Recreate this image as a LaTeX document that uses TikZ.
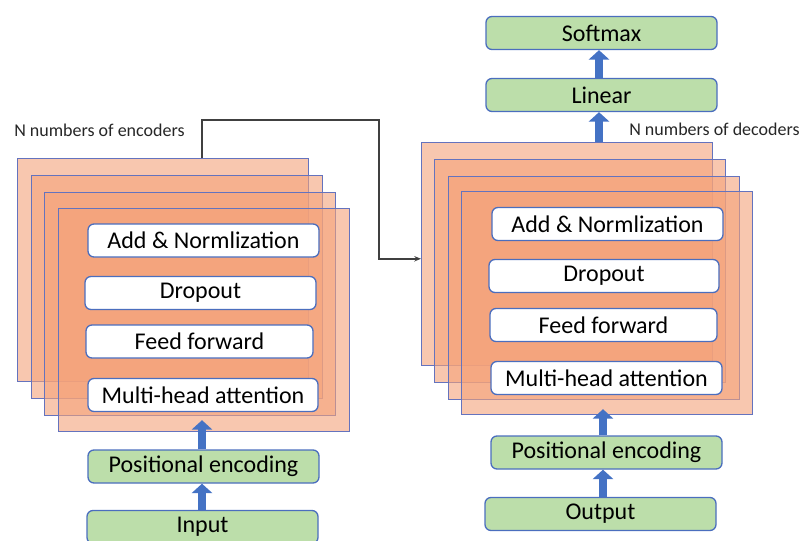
\documentclass[tikz,border=0pt]{standalone}
\usepackage{fontspec}
\setmainfont{Carlito}
\usetikzlibrary{arrows.meta,calc}
\definecolor{frameO}{RGB}{244,162,122}
\definecolor{frameB}{RGB}{100,115,190}
\definecolor{boxB}{RGB}{75,110,190}
\definecolor{greenF}{RGB}{188,222,170}
\definecolor{arrowB}{RGB}{68,114,196}
\definecolor{lineG}{RGB}{64,64,64}
\begin{document}
\begin{tikzpicture}[x=0.75pt,y=-0.75pt,
  frame/.style={draw=frameB, line width=0.9pt, fill=frameO, fill opacity=0.6, anchor=north west,
    minimum width=291*0.75pt, minimum height=223*0.75pt, inner sep=0pt},
  layerbox/.style={draw=boxB, line width=1pt, fill=white, rounded corners=4.5pt,
    minimum height=33*0.75pt, inner sep=0pt, font=\fontsize{18}{21}\selectfont},
  greenbox/.style={draw=boxB, line width=1pt, fill=greenF, rounded corners=4.5pt,
    minimum width=231*0.75pt, minimum height=33*0.75pt, inner sep=0pt, font=\fontsize{18}{21}\selectfont},
  blockarrow/.style={draw=arrowB, line width=6pt, -{Triangle[length=7pt,width=15pt]}, arrowB},
  link/.style={draw=lineG, line width=1.4pt, -{Stealth[length=5pt,width=4pt]}},
  lbl/.style={anchor=west, inner sep=0pt, font=\fontsize{13.5}{15}\selectfont, text=black!85}]
\useasboundingbox (0,0) rectangle (802,540);

% encoder frames
\node[frame] (e1) at (17,158) {};
\node[frame] (e2) at (31,175) {};
\node[frame] (e3) at (44,192) {};
\node[frame] (e4) at (58,208) {};
% decoder frames
\node[frame] (d1) at (421,142) {};
\node[frame] (d2) at (434,159) {};
\node[frame] (d3) at (448,176) {};
\node[frame] (d4) at (461,191) {};

% encoder layer boxes
\node[layerbox, minimum width=231*0.75pt] (ean) at (203.5,240.5) {Add \& Normlization};
\node[layerbox, minimum width=231*0.75pt] (edo) at (200.5,293) {Dropout};
\node[layerbox, minimum width=227*0.75pt] (eff) at (199.5,341.5) {Feed forward};
\node[layerbox, minimum width=230*0.75pt] (emh) at (203,395) {Multi-head attention};
% decoder layer boxes
\node[layerbox, minimum width=231*0.75pt] (dan) at (607.5,224) {Add \& Normlization};
\node[layerbox, minimum width=230*0.75pt] (ddo) at (604,276) {Dropout};
\node[layerbox, minimum width=227*0.75pt] (dff) at (603.5,325) {Feed forward};
\node[layerbox, minimum width=231*0.75pt] (dmh) at (606.5,378) {Multi-head attention};

% green boxes
\node[greenbox] (epe) at (203.5,466.5) {Positional encoding};
\node[greenbox] (inp) at (202.5,527) {Input};
\node[greenbox] (dpe) at (606.5,452.5) {Positional encoding};
\node[greenbox] (out) at (600.5,514) {Output};
\node[greenbox] (lin) at (601.5,95) {Linear};
\node[greenbox] (smx) at (601.5,33) {Softmax};

% block arrows
\draw[blockarrow] (inp.north -| 202,0) -- (epe.south -| 202,0);
\draw[blockarrow] (epe.north -| 202,0) -- ([yshift=9pt]e4.south -| 202,0);
\draw[blockarrow] (out.north -| 603,0) -- (dpe.south -| 603,0);
\draw[blockarrow] (dpe.north -| 603,0) -- ([yshift=4.5pt]d4.south -| 603,0);
\draw[blockarrow] (d1.north -| 599,0) -- (lin.south -| 599,0);
\draw[blockarrow] (lin.north -| 599,0) -- (smx.south -| 599,0);

% connector encoder -> decoder
\coordinate (bend) at (379,120);
\draw[link] (e1.north -| 202,0) |- (bend) |- ([yshift=-3.5pt]d1.west);

% labels
\node[lbl] (lenc) at (14,130) {N numbers of encoders};
\node[lbl] (ldec) at (629,129) {N numbers of decoders};
\end{tikzpicture}
\end{document}
